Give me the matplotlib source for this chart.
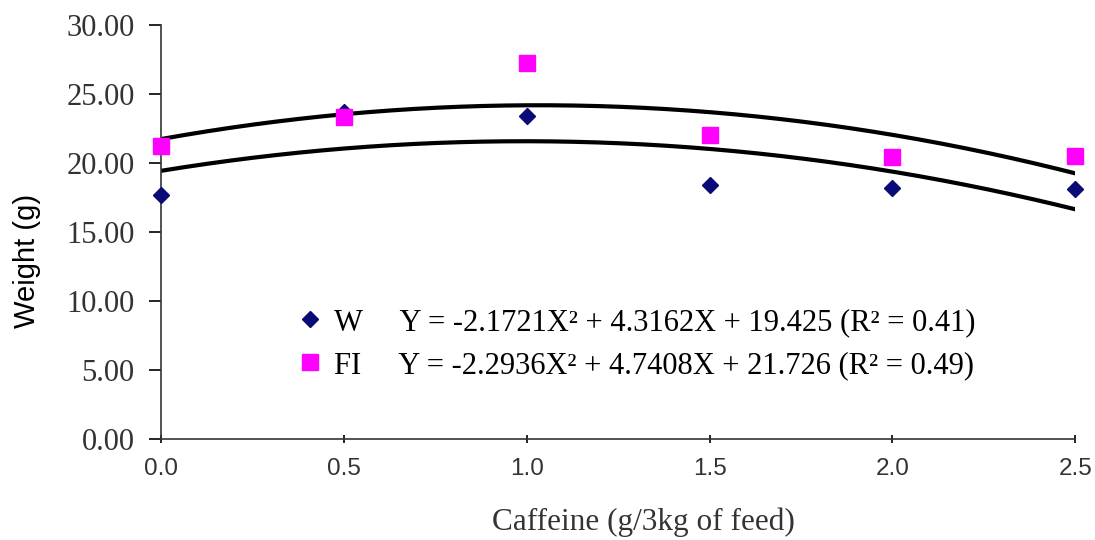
import numpy as np
import matplotlib
matplotlib.use("Agg")
import matplotlib.pyplot as plt
from matplotlib.lines import Line2D

caffeine = [0.0, 0.5, 1.0, 1.5, 2.0, 2.5]
weight_w = [17.7, 23.7, 23.4, 18.4, 18.2, 18.1]
feed_fi = [21.2, 23.3, 27.2, 22.0, 20.4, 20.5]
coef_w = [-2.1721, 4.3162, 19.425]
coef_fi = [-2.2936, 4.7408, 21.726]
label_w = "W     Y = -2.1721X\u00b2 + 4.3162X + 19.425 (R\u00b2 = 0.41)"
label_fi = "FI     Y = -2.2936X\u00b2 + 4.7408X + 21.726 (R\u00b2 = 0.49)"
yticks = [0, 5, 10, 15, 20, 25, 30]
xticks = [0.0, 0.5, 1.0, 1.5, 2.0, 2.5]

serif = "Liberation Serif"
sans = "Liberation Sans"
navy = "#0b0b78"
magenta = "#ff00ff"

fig = plt.figure(figsize=(10.95, 5.4), dpi=100)
ax = fig.add_axes([0.147, 0.187, 0.835, 0.767])

xs = np.linspace(0, 2.5, 200)
ax.plot(xs, np.polyval(coef_w, xs), color="black", lw=3, zorder=2)
ax.plot(xs, np.polyval(coef_fi, xs), color="black", lw=3, zorder=2)
ax.plot(caffeine, weight_w, linestyle="none", marker="D", color=navy, markersize=8.5, zorder=3, clip_on=False)
ax.plot(caffeine, feed_fi, linestyle="none", marker="s", color=magenta, markersize=11, zorder=3, clip_on=False)

ax.set_xlim(0, 2.5)
ax.set_ylim(0, 30)
ax.set_yticks(yticks)
ax.set_yticklabels([f"{v:.2f}" for v in yticks], fontfamily=serif, fontsize=22, color="#333333")
ax.set_xticks(xticks)
ax.set_xticklabels([f"{v:.1f}" for v in xticks], fontfamily=sans, fontsize=17.5, color="#333333")
ax.tick_params(axis="y", direction="out", length=9, width=1.2, pad=10)
ax.tick_params(axis="x", direction="inout", length=6, width=1.2, pad=11)
for s in ["top", "right"]:
    ax.spines[s].set_visible(False)
for s in ["left", "bottom"]:
    ax.spines[s].set_linewidth(1.2)
    ax.spines[s].set_color("#333333")

ax.set_xlabel("Caffeine (g/3kg of feed)", fontfamily=serif, fontsize=22.5, color="#333333", va="center")
ax.xaxis.set_label_coords(0.528, -0.200)
ax.set_ylabel("Weight (g)", fontfamily=sans, fontsize=21, color="black", va="center")
ax.yaxis.set_label_coords(-0.147, 0.43)

handles = [Line2D([], [], linestyle="none", marker="D", color=navy, markersize=8.5),
           Line2D([], [], linestyle="none", marker="s", color=magenta, markersize=11)]
ax.legend(handles, [label_w, label_fi], loc="upper left", bbox_to_anchor=(0.146, 0.316),
          frameon=False, prop={"family": serif, "size": 22}, handletextpad=0.3,
          handlelength=1.0, labelspacing=0.45, borderaxespad=0, borderpad=0)

fig.savefig("out.png", dpi=100)
